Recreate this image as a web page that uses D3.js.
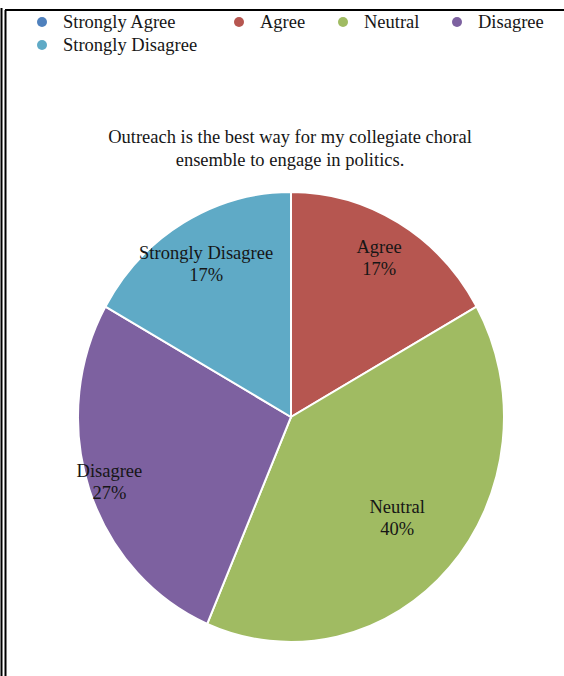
<!DOCTYPE html>
<html>
<head>
<meta charset="utf-8">
<script src="https://cdn.jsdelivr.net/npm/d3@7/dist/d3.min.js"></script>
<style>
  html, body { margin: 0; padding: 0; background: #fff; }
  svg { display: block; }
  text { font-family: "Liberation Serif", "Times New Roman", serif; fill: #161616; }
</style>
</head>
<body>
<script>
// Survey responses (percent of respondents)
const categories = ["Strongly Agree", "Agree", "Neutral", "Disagree", "Strongly Disagree"];
const percents = [0, 17, 40, 27, 17];
const colors = ["#4F81BD", "#B65650", "#A0BB62", "#7D61A0", "#5FAAC6"];
const titleLines = ["Outreach is the best way for my collegiate choral", "ensemble to engage in politics."];

const W = 564, H = 676;
const svg = d3.select("body").append("svg").attr("width", W).attr("height", H);

// Page frame
const frame = svg.append("g").attr("stroke", "#000").attr("stroke-width", 2);
frame.append("line").attr("x1", 1.5).attr("x2", 1.5).attr("y1", 8).attr("y2", H);
frame.append("line").attr("x1", 5.5).attr("x2", 5.5).attr("y1", 10).attr("y2", H);
frame.append("line").attr("x1", 5).attr("x2", W).attr("y1", 10).attr("y2", 10);

// Legend (two rows)
const legendPos = [
  { x: 42, y: 22 }, { x: 239, y: 22 }, { x: 343, y: 22 }, { x: 457, y: 22 }, { x: 42, y: 45 }
];
const legend = svg.append("g").selectAll("g").data(categories).join("g")
  .attr("transform", (d, i) => `translate(${legendPos[i].x},${legendPos[i].y})`);
legend.append("circle").attr("r", 5).attr("fill", (d, i) => colors[i]);
legend.append("text").attr("x", 21).attr("y", 6).attr("font-size", 18.5).text(d => d);

// Title
svg.append("text").attr("text-anchor", "middle").attr("font-size", 18.5)
  .selectAll("tspan").data(titleLines).join("tspan")
  .attr("x", 290).attr("y", (d, i) => 143 + i * 23).text(d => d);

// Pie (slightly taller than wide)
const cx = 291, cy = 417, rx = 213, ry = 225;
const pie = d3.pie().sort(null).value(d => d.v);
const slices = pie(categories.map((c, i) => ({ c, v: percents[i], i })));
const arc = d3.arc().innerRadius(0).outerRadius(ry);

const pg = svg.append("g").attr("transform", `translate(${cx},${cy}) scale(${rx / ry},1)`);
pg.selectAll("path").data(slices.filter(s => s.data.v > 0)).join("path")
  .attr("d", arc)
  .attr("fill", d => colors[d.data.i])
  .attr("stroke", "#fff")
  .attr("stroke-width", 2)
  .attr("vector-effect", "non-scaling-stroke");

// Slice labels, placed along each slice's mid-angle (best-fit radius per slice)
const labelRadius = { "Agree": 0.82, "Neutral": 0.67, "Disagree": 0.90, "Strongly Disagree": 0.79 };
const lg = svg.append("g").attr("text-anchor", "middle").attr("font-size", 18.5);
slices.filter(s => s.data.v > 0).forEach(s => {
  const a = (s.startAngle + s.endAngle) / 2;
  const k = labelRadius[s.data.c];
  const x = cx + Math.sin(a) * rx * k;
  const y = cy - Math.cos(a) * ry * k;
  const t = lg.append("text");
  t.append("tspan").attr("x", x).attr("y", y - 5).text(s.data.c);
  t.append("tspan").attr("x", x).attr("y", y + 17).text(s.data.v + "%");
});
</script>
</body>
</html>
